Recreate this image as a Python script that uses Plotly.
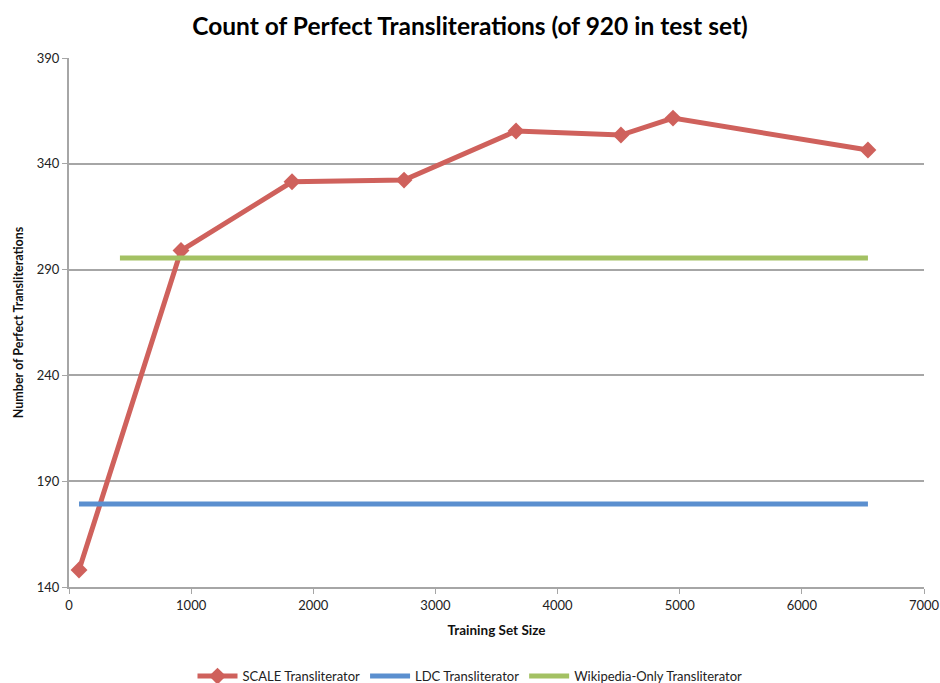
import plotly.graph_objects as go

# Training set sizes and perfect-transliteration counts
scale_x = [82, 917, 1826, 2743, 3660, 4519, 4945, 6541]
scale_y = [148, 299, 331.5, 332.3, 355.5, 353.6, 361.6, 346.5]

ldc_x = [82, 917, 1826, 2743, 3660, 4519, 4945, 6541]
ldc_y = [179.2, 179.2, 179.2, 179.2, 179.2, 179.2, 179.2, 179.2]

wiki_x = [417, 6541]
wiki_y = [295.5, 295.5]

x_ticks = [0, 1000, 2000, 3000, 4000, 5000, 6000, 7000]
y_ticks = [140, 190, 240, 290, 340, 390]

font_family = "Lato, 'Open Sans', sans-serif"

fig = go.Figure()
fig.add_trace(go.Scatter(
    x=scale_x, y=scale_y, mode="lines+markers", name="SCALE Transliterator",
    line=dict(color="#CF615C", width=5),
    marker=dict(symbol="diamond", size=13, color="#CF615C"),
))
fig.add_trace(go.Scatter(
    x=ldc_x, y=ldc_y, mode="lines", name="LDC Transliterator",
    line=dict(color="#5B8FCF", width=5),
))
fig.add_trace(go.Scatter(
    x=wiki_x, y=wiki_y, mode="lines", name="Wikipedia-Only Transliterator",
    line=dict(color="#A3C163", width=5),
))

fig.update_layout(
    width=940, height=683,
    margin=dict(l=69, r=16, t=58, b=96, autoexpand=False),
    paper_bgcolor="white", plot_bgcolor="white",
    font=dict(family=font_family, color="#222", size=12),
    title=dict(
        text="<b>Count of Perfect Transliterations (of 920 in test set)</b>",
        x=0.5, xanchor="center", y=0.962, yanchor="middle",
        font=dict(size=24.5, color="black", family=font_family),
    ),
    showlegend=True,
    legend=dict(
        orientation="h", xref="container", x=0.5, xanchor="center",
        yref="container", y=0.01, yanchor="middle",
        font=dict(size=13, color="#222"), itemwidth=40,
    ),
    xaxis=dict(
        range=[0, 7000], tickvals=x_ticks, showgrid=False, zeroline=False,
        showline=True, linecolor="#A6A6A6", linewidth=2, automargin=False,
        ticks="outside", ticklen=5, tickcolor="#A6A6A6",
        tickfont=dict(size=13, color="#222"),
        title=dict(text="<b>Training Set Size</b>", font=dict(size=13.5, color="#111"), standoff=14),
    ),
    yaxis=dict(
        range=[140, 390], tickvals=y_ticks, showgrid=True, gridcolor="#A6A6A6", gridwidth=1.5,
        zeroline=False, showline=True, linecolor="#A6A6A6", linewidth=2, automargin=False,
        ticks="outside", ticklen=5, tickcolor="#A6A6A6",
        tickfont=dict(size=13, color="#222"),
        title=dict(text="<b>Number of Perfect Transliterations</b>", font=dict(size=12.5, color="#111"), standoff=10),
    ),
)

fig.write_html("out.html")
